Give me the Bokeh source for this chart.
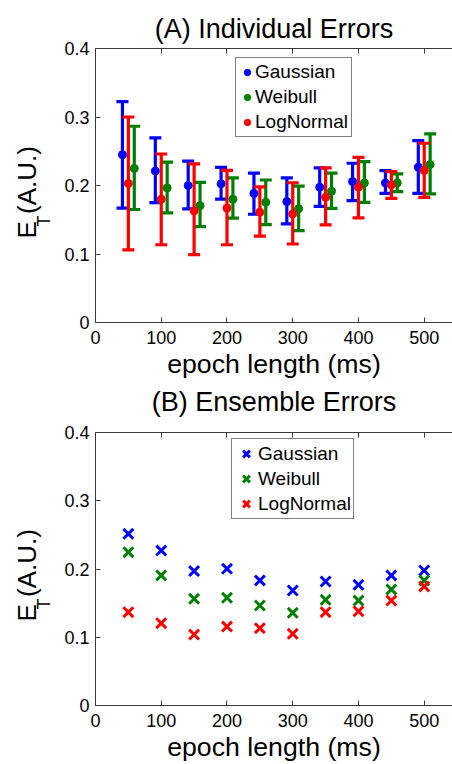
from bokeh.plotting import figure
from bokeh.models import (Whisker, ColumnDataSource, Legend, LegendItem, Title,
                          LinearAxis, FixedTicker, Range1d, TeeHead)
from bokeh.layouts import column
from bokeh.embed import file_html
from bokeh.resources import INLINE

# ---------------- data ----------------
epochs = [50, 100, 150, 200, 250, 300, 350, 400, 450, 500]
series = ["Gaussian", "Weibull", "LogNormal"]
colors = ["#0000ff", "#008000", "#ff0000"]
offsets = [-9, 9, 0]

# (A) Individual errors: mean, upper, lower
gauss_mean = [0.245, 0.221, 0.200, 0.2025, 0.1885, 0.1765, 0.1975, 0.2057, 0.2038, 0.2266]
gauss_up = [0.3225, 0.2695, 0.2355, 0.2265, 0.218, 0.211, 0.2257, 0.2325, 0.2218, 0.2656]
gauss_lo = [0.167, 0.175, 0.166, 0.180, 0.158, 0.144, 0.1696, 0.178, 0.1886, 0.1886]

weib_mean = [0.225, 0.1965, 0.1705, 0.180, 0.1755, 0.166, 0.1915, 0.2038, 0.2038, 0.2306]
weib_up = [0.2865, 0.234, 0.2045, 0.211, 0.208, 0.199, 0.218, 0.235, 0.217, 0.2754]
weib_lo = [0.165, 0.160, 0.140, 0.1525, 0.143, 0.134, 0.1667, 0.1755, 0.191, 0.1877]

logn_mean = [0.203, 0.180, 0.163, 0.167, 0.161, 0.1585, 0.1828, 0.1975, 0.2008, 0.2218]
logn_up = [0.300, 0.246, 0.2315, 0.222, 0.198, 0.204, 0.2257, 0.241, 0.2203, 0.2617]
logn_lo = [0.106, 0.1135, 0.099, 0.1135, 0.126, 0.1146, 0.1424, 0.1526, 0.1813, 0.1828]

# (B) Ensemble errors
ens_gauss = [0.2515, 0.227, 0.197, 0.2003, 0.1832, 0.1685, 0.1817, 0.1768, 0.1905, 0.1978]
ens_weib = [0.2246, 0.1905, 0.1563, 0.1578, 0.1465, 0.1358, 0.1548, 0.1538, 0.170, 0.1832]
ens_logn = [0.1367, 0.1206, 0.104, 0.1157, 0.1133, 0.105, 0.1367, 0.138, 0.1538, 0.1744]

x_ticks = [0, 100, 200, 300, 400, 500]
y_ticks = [0, 0.1, 0.2, 0.3, 0.4]
y_tick_labels = {0: "0", 0.1: "0.1", 0.2: "0.2", 0.3: "0.3", 0.4: "0.4"}
titles = ["(A) Individual Errors", "(B) Ensemble Errors"]

FONT = "Liberation Sans"
AX = "#3a3a3a"


def mk_title(text, size, standoff, **kw):
    t = Title(text=text, text_font=FONT, text_font_size=size, text_font_style="normal",
              text_color="black", **kw)
    try:
        t.standoff = standoff
    except Exception:
        t.standoff = max(0, standoff)
    return t


def base_fig(height, top, bottom):
    p = figure(width=452, height=height, x_range=Range1d(0, 543), y_range=Range1d(0, 0.4),
               output_backend="svg", toolbar_location=None,
               min_border_left=95, min_border_right=0, min_border_top=top,
               min_border_bottom=bottom)
    p.outline_line_color = None
    p.grid.visible = False
    for ax in (p.xaxis[0], p.yaxis[0]):
        ax.axis_line_color = AX
        ax.major_tick_line_color = AX
        ax.major_tick_in = 5
        ax.major_tick_out = 0
        ax.minor_tick_line_color = None
        ax.major_label_text_font = FONT
        ax.major_label_text_font_size = "18px"
        ax.major_label_text_color = "black"
    p.xaxis.ticker = FixedTicker(ticks=x_ticks)
    p.yaxis.ticker = FixedTicker(ticks=y_ticks)
    p.yaxis.major_label_overrides = y_tick_labels
    p.xaxis.major_label_standoff = 8
    p.yaxis.major_label_standoff = 6
    p.xaxis.axis_label = "epoch length (ms)"
    p.xaxis.axis_label_text_font = FONT
    p.xaxis.axis_label_text_font_size = "26.7px"
    p.xaxis.axis_label_text_font_style = "normal"
    p.xaxis.axis_label_text_color = "black"
    p.xaxis.axis_label_standoff = 2
    # top border with inward tick marks (minor ticks only, so no labels)
    top_ax = LinearAxis(ticker=FixedTicker(ticks=[], minor_ticks=x_ticks), axis_line_color=AX,
                        major_tick_line_color=None, minor_tick_line_color=AX,
                        minor_tick_in=5, minor_tick_out=0, major_label_standoff=0)
    p.add_layout(top_ax, "above")
    # y-axis label  E_T (A.U.) : subscript column next to the axis, main text outside
    p.add_layout(mk_title("T", "18px", 16, align="left", offset=96,
                          vertical_align="bottom"), "left")
    p.add_layout(mk_title("E  (A.U.)", "26px", -37, align="left", offset=84,
                          vertical_align="bottom"), "left")
    return p


# ---------------- (A) ----------------
p1 = base_fig(422, 48, 100)
p1.title = mk_title(titles[0], "27px", 10, align="center")
means = [gauss_mean, weib_mean, logn_mean]
ups = [gauss_up, weib_up, logn_up]
los = [gauss_lo, weib_lo, logn_lo]
items1 = []
for name, col, off, m, u, l in zip(series, colors, offsets, means, ups, los):
    src = ColumnDataSource(dict(x=[e + off for e in epochs], y=m, upper=u, lower=l))
    w = Whisker(base="x", upper="upper", lower="lower", source=src,
                line_color=col, line_width=3.2,
                upper_head=TeeHead(size=12, line_color=col, line_width=3.2),
                lower_head=TeeHead(size=12, line_color=col, line_width=3.2))
    p1.add_layout(w)
    r = p1.scatter("x", "y", source=src, size=8, color=col, marker="circle")
    items1.append(LegendItem(label=name, renderers=[r]))

leg1 = Legend(items=items1, location=(140, 185), label_text_font=FONT,
              label_text_font_size="19px", label_text_color="black",
              glyph_width=16, glyph_height=22,
              label_height=22, spacing=3, padding=3, margin=0, label_standoff=0,
              border_line_color="black", border_line_width=1)
p1.add_layout(leg1)

# title of panel (B) sits in the gap under panel (A)
p1.add_layout(mk_title(titles[1], "27px", 7, align="center", vertical_align="bottom"), "below")

# ---------------- (B) ----------------
p2 = base_fig(342, 10, 59)
ens = [ens_gauss, ens_weib, ens_logn]
items2 = []
for name, col, vals in zip(series, colors, ens):
    src = ColumnDataSource(dict(x=epochs, y=vals))
    r = p2.scatter("x", "y", source=src, size=14, marker="x", line_color=col, line_width=3)
    items2.append(LegendItem(label=name, renderers=[r]))

leg2 = Legend(items=items2, location=(136, 186), label_text_font=FONT,
              label_text_font_size="19px", label_text_color="black",
              glyph_width=24, glyph_height=25,
              label_height=22, spacing=0, padding=2, margin=0, label_standoff=0,
              border_line_color="black", border_line_width=1)
p2.add_layout(leg2)

layout = column(p1, p2)
open("out.html", "w").write(file_html(layout, INLINE))
